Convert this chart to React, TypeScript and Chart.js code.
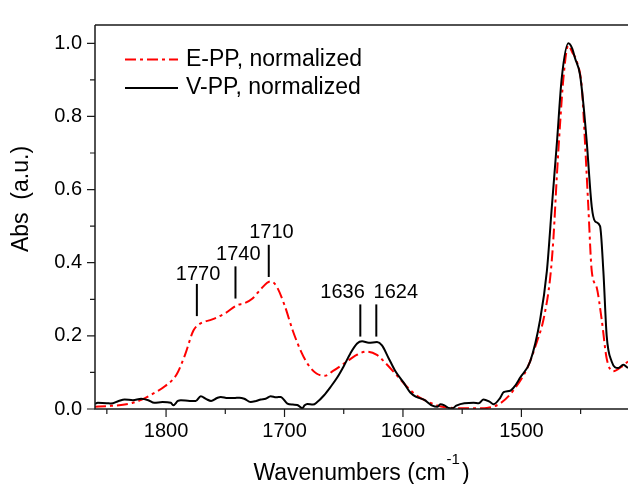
import React, { useEffect, useRef } from 'react';
import { Chart, registerables } from 'chart.js';

Chart.register(...registerables);

const FONT = '"Liberation Sans", Arial, sans-serif';

const seriesNames = ['E-PP, normalized', 'V-PP, normalized'];

const ePPWavenumbers = [
  1860, 1850, 1838, 1828, 1821, 1811, 1801, 1791, 1784, 1777, 1772, 1761, 1750, 1740, 1734,
  1727, 1720, 1712, 1707, 1700, 1693, 1686, 1680, 1673, 1666, 1659, 1649, 1639, 1631, 1622,
  1616, 1606, 1599, 1589, 1579, 1568, 1558, 1548, 1535, 1529, 1518, 1507, 1495, 1487, 1481.4,
  1475.7, 1473, 1470, 1467.3, 1464.5, 1460.5, 1457, 1453.2, 1449, 1446.3, 1443.5, 1440.6,
  1436.4, 1432.2, 1428, 1422.4, 1415.3, 1410,
];
const ePPAbs = [
  0.006, 0.008, 0.011, 0.017, 0.025, 0.042, 0.062, 0.095, 0.148, 0.214, 0.232, 0.245, 0.262, 0.284, 0.289,
  0.302, 0.328, 0.349, 0.337, 0.284, 0.214, 0.157, 0.121, 0.097, 0.091, 0.104, 0.126, 0.148, 0.157, 0.148,
  0.13, 0.095, 0.069, 0.038, 0.02, 0.007, 0.003, 0.002, 0.002, 0.003, 0.015, 0.05, 0.112, 0.183, 0.244,
  0.359, 0.465, 0.641, 0.782, 0.906, 0.994, 0.975, 0.95, 0.879, 0.729, 0.553, 0.377,
  0.332, 0.244, 0.138, 0.103, 0.116, 0.13,
];

const vPPWavenumbers = [
  1860, 1857.7, 1850, 1846.5, 1840, 1835, 1828, 1821, 1815, 1810, 1803, 1796, 1794, 1790, 1787.5,
  1780, 1775, 1770.7, 1766, 1762, 1757, 1753.8, 1748, 1742.6, 1738, 1734, 1728.6, 1724, 1720, 1716,
  1711.7, 1707, 1703.3, 1697.6, 1693, 1689.2, 1685, 1683, 1680.8, 1676, 1672.4, 1666.8, 1661.2, 1655.5,
  1650, 1644.4, 1638.7, 1634.5, 1628.9, 1621.9, 1617.7, 1612.1, 1606.5, 1599.4, 1593.8, 1588.7, 1582,
  1575.2, 1571, 1568.5, 1565, 1561.7, 1558, 1555, 1548.2, 1540.4, 1536, 1532, 1527, 1523.5, 1518, 1515,
  1509.4, 1505, 1501, 1492.6, 1484.2, 1478.5, 1474.3, 1470, 1465.9, 1460.3, 1457, 1454.7, 1450.5,
  1447.7, 1444.8, 1440.6, 1437.8, 1433.6, 1430.8, 1428, 1423.8, 1418.2, 1414, 1410,
];
const vPPAbs = [
  0.014, 0.017, 0.016, 0.015, 0.022, 0.026, 0.024, 0.028, 0.024, 0.017, 0.019, 0.017, 0.01, 0.022, 0.024,
  0.022, 0.022, 0.035, 0.027, 0.022, 0.03, 0.033, 0.03, 0.03, 0.031, 0.028, 0.019, 0.022, 0.026, 0.028,
  0.035, 0.032, 0.033, 0.015, 0.012, 0.011, 0.002, 0.01, 0.014, 0.012, 0.019, 0.037, 0.06, 0.086,
  0.117, 0.152, 0.179, 0.185, 0.181, 0.183, 0.174, 0.139, 0.104, 0.072, 0.045, 0.033, 0.025,
  0.009, 0.006, 0.013, 0.01, 0.003, 0.002, 0.009, 0.016, 0.017, 0.016, 0.026, 0.02, 0.013, 0.03, 0.046,
  0.05, 0.065, 0.086, 0.13, 0.244, 0.377, 0.553, 0.729, 0.906, 1.0, 0.985, 0.959, 0.914,
  0.835, 0.729, 0.553, 0.513, 0.5, 0.377, 0.2, 0.13, 0.112, 0.121, 0.112,
];

const xMajorTicks = [1800, 1700, 1600, 1500];
const xMinorTicks = [1850, 1750, 1650, 1550, 1450];
const yMajorTicks = [0, 0.2, 0.4, 0.6, 0.8, 1.0];
const yMinorTicks = [0.1, 0.3, 0.5, 0.7, 0.9];

const peakLabels = ['1770', '1740', '1710', '1636', '1624'];
const peakLineX = [1774, 1741.4, 1713.3, 1636, 1622.5];
const peakLineBottom = [0.254, 0.302, 0.361, 0.198, 0.198];
const peakLineTop = [0.342, 0.39, 0.449, 0.286, 0.286];
const peakLabelX = [1773, 1739, 1711, 1651, 1606];
const peakLabelY = [0.369, 0.422, 0.482, 0.318, 0.318];

const RED_DASH = [11, 4, 3, 4];

const decorPlugin = {
  id: 'decor',
  afterDatasetsDraw(chart: any) {
    const { ctx, chartArea: a, scales } = chart;
    const x = scales.x;
    const y = scales.y;
    ctx.save();
    // frame
    ctx.strokeStyle = '#1a1a1a';
    ctx.lineWidth = 1.5;
    ctx.setLineDash([]);
    ctx.beginPath();
    ctx.moveTo(a.left, a.top);
    ctx.lineTo(a.left, a.bottom);
    ctx.lineTo(a.right, a.bottom);
    ctx.moveTo(a.left, a.top);
    ctx.lineTo(a.right, a.top);
    ctx.stroke();
    // ticks
    ctx.lineWidth = 1.2;
    ctx.beginPath();
    xMajorTicks.forEach((v) => {
      const px = x.getPixelForValue(v);
      ctx.moveTo(px, a.bottom);
      ctx.lineTo(px, a.bottom + 8);
    });
    xMinorTicks.forEach((v) => {
      const px = x.getPixelForValue(v);
      ctx.moveTo(px, a.bottom);
      ctx.lineTo(px, a.bottom + 5);
    });
    yMajorTicks.forEach((v) => {
      const py = y.getPixelForValue(v);
      ctx.moveTo(a.left, py);
      ctx.lineTo(a.left - 8, py);
    });
    yMinorTicks.forEach((v) => {
      const py = y.getPixelForValue(v);
      ctx.moveTo(a.left, py);
      ctx.lineTo(a.left - 5, py);
    });
    ctx.stroke();

    // peak labels
    ctx.fillStyle = '#000';
    ctx.font = `20px ${FONT}`;
    ctx.textAlign = 'center';
    ctx.textBaseline = 'middle';
    peakLabels.forEach((t, i) => {
      ctx.fillText(t, x.getPixelForValue(peakLabelX[i]), y.getPixelForValue(peakLabelY[i]));
    });

    // legend
    ctx.font = `23px ${FONT}`;
    ctx.textAlign = 'left';
    ctx.lineWidth = 2;
    ctx.strokeStyle = '#ff0000';
    ctx.setLineDash(RED_DASH);
    ctx.beginPath();
    ctx.moveTo(125, 59.5);
    ctx.lineTo(178, 59.5);
    ctx.stroke();
    ctx.setLineDash([]);
    ctx.strokeStyle = '#000';
    ctx.beginPath();
    ctx.moveTo(125, 88);
    ctx.lineTo(178, 88);
    ctx.stroke();
    ctx.fillText(seriesNames[0], 186, 60);
    ctx.fillText(seriesNames[1], 186, 88);

    // x title
    ctx.textBaseline = 'alphabetic';
    const part1 = 'Wavenumbers (cm';
    const sup = '-1';
    const part3 = ')';
    ctx.font = `23px ${FONT}`;
    const w1 = ctx.measureText(part1).width;
    const w3 = ctx.measureText(part3).width;
    ctx.font = `15px ${FONT}`;
    const w2 = ctx.measureText(sup).width;
    const total = w1 + w2 + w3 + 3;
    let tx = (a.left + a.right) / 2 - total / 2;
    const by = 480;
    ctx.font = `23px ${FONT}`;
    ctx.fillText(part1, tx, by);
    tx += w1 + 1;
    ctx.font = `15px ${FONT}`;
    ctx.fillText(sup, tx, by - 16);
    tx += w2 + 2;
    ctx.font = `23px ${FONT}`;
    ctx.fillText(part3, tx, by);

    // y title
    ctx.save();
    ctx.translate(22, 199);
    ctx.rotate(-Math.PI / 2);
    ctx.textAlign = 'center';
    ctx.textBaseline = 'middle';
    ctx.fillText('Abs  (a.u.)', 0, 0);
    ctx.restore();

    ctx.restore();
  },
};

export default function App() {
  const ref = useRef<HTMLCanvasElement | null>(null);
  useEffect(() => {
    document.body.style.margin = '0';
    const canvas = ref.current;
    if (!canvas) return;
    const datasets: any[] = [
      {
        label: seriesNames[1],
        data: vPPWavenumbers.map((w, i) => ({ x: w, y: vPPAbs[i] })),
        borderColor: '#000000',
        borderWidth: 2,
        pointRadius: 0,
        fill: false,
        cubicInterpolationMode: 'monotone',
        order: 0,
      },
      {
        label: seriesNames[0],
        data: ePPWavenumbers.map((w, i) => ({ x: w, y: ePPAbs[i] })),
        borderColor: '#ff0000',
        borderWidth: 2,
        borderDash: RED_DASH,
        pointRadius: 0,
        fill: false,
        cubicInterpolationMode: 'monotone',
        order: 1,
      },
      ...peakLabels.map((l, i) => ({
        label: 'peak ' + l,
        data: [
          { x: peakLineX[i], y: peakLineBottom[i] },
          { x: peakLineX[i], y: peakLineTop[i] },
        ],
        borderColor: '#000000',
        borderWidth: 2,
        pointRadius: 0,
        tension: 0,
        fill: false,
        order: 2,
      })),
    ];
    const chart = new Chart(canvas, {
      type: 'line',
      data: { datasets },
      options: {
        animation: false,
        responsive: false,
        maintainAspectRatio: false,
        devicePixelRatio: 1,
        layout: { padding: { top: 12, right: 0, left: 0, bottom: 0 } },
        plugins: {
          legend: { display: false },
          tooltip: { enabled: false },
          title: { display: false },
        },
        scales: {
          x: {
            type: 'linear',
            reverse: true,
            min: 1410,
            max: 1860,
            grid: { display: false, drawTicks: false },
            border: { display: false },
            ticks: {
              font: { family: FONT, size: 20 },
              color: '#000',
              padding: 10,
              maxRotation: 0,
              autoSkip: false,
              callback: (v: any) => String(v),
            },
            afterBuildTicks: (s: any) => {
              s.ticks = xMajorTicks.map((v) => ({ value: v }));
            },
            afterFit: (s: any) => {
              s.height = 75;
            },
          },
          y: {
            type: 'linear',
            min: 0,
            max: 1.05,
            grid: { display: false, drawTicks: false },
            border: { display: false },
            ticks: {
              font: { family: FONT, size: 20 },
              color: '#000',
              padding: 13,
              callback: (v: any) => Number(v).toFixed(1),
            },
            afterBuildTicks: (s: any) => {
              s.ticks = yMajorTicks.map((v) => ({ value: v }));
            },
            afterFit: (s: any) => {
              s.width = 95;
            },
          },
        },
      } as any,
      plugins: [decorPlugin],
    });
    return () => chart.destroy();
  }, []);
  return (
    <div style={{ width: 628, height: 484, position: 'relative', background: '#fff' }}>
      <canvas ref={ref} width={628} height={484} style={{ display: 'block' }} />
    </div>
  );
}
